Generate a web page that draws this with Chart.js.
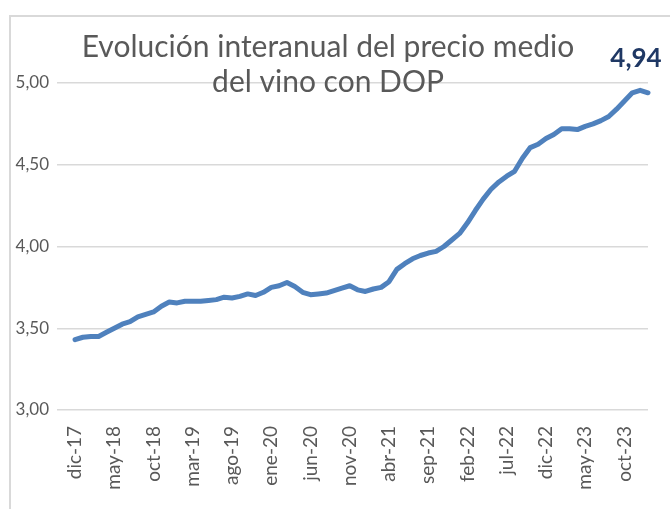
<!DOCTYPE html>
<html>
<head>
<meta charset="utf-8">
<script src="https://cdn.jsdelivr.net/npm/chart.js@4"></script>
<style>
  body { margin: 0; background: #ffffff; }
  #wrap { position: relative; width: 670px; height: 509px; overflow: hidden; }
  #frame { position: absolute; left: 9px; top: 15px; width: 700px; height: 600px;
           border-left: 2px solid #d9d9d9; border-top: 2px solid #d9d9d9; }
  #priceChart { position: absolute; left: 0; top: 0; }
</style>
</head>
<body>
<div id="wrap">
  <div id="frame"></div>
  <canvas id="priceChart" width="670" height="509"></canvas>
</div>
<script>
const months = [
  "dic-17",
  "ene-18", "feb-18", "mar-18", "abr-18", "may-18", "jun-18", "jul-18", "ago-18", "sep-18", "oct-18", "nov-18", "dic-18",
  "ene-19", "feb-19", "mar-19", "abr-19", "may-19", "jun-19", "jul-19", "ago-19", "sep-19", "oct-19", "nov-19", "dic-19",
  "ene-20", "feb-20", "mar-20", "abr-20", "may-20", "jun-20", "jul-20", "ago-20", "sep-20", "oct-20", "nov-20", "dic-20",
  "ene-21", "feb-21", "mar-21", "abr-21", "may-21", "jun-21", "jul-21", "ago-21", "sep-21", "oct-21", "nov-21", "dic-21",
  "ene-22", "feb-22", "mar-22", "abr-22", "may-22", "jun-22", "jul-22", "ago-22", "sep-22", "oct-22", "nov-22", "dic-22",
  "ene-23", "feb-23", "mar-23", "abr-23", "may-23", "jun-23", "jul-23", "ago-23", "sep-23", "oct-23", "nov-23", "dic-23",
  "ene-24"
];

const prices = [
  3.43,
  3.445, 3.45, 3.45, 3.475, 3.50, 3.525, 3.54, 3.57, 3.585, 3.60, 3.635, 3.66,
  3.655, 3.665, 3.665, 3.665, 3.67, 3.675, 3.69, 3.685, 3.695, 3.71, 3.70, 3.72,
  3.75, 3.76, 3.78, 3.755, 3.72, 3.705, 3.71, 3.715, 3.73, 3.745, 3.76, 3.735,
  3.725, 3.74, 3.75, 3.785, 3.86, 3.895, 3.925, 3.945, 3.96, 3.97, 4.00, 4.04,
  4.08, 4.145, 4.22, 4.29, 4.35, 4.395, 4.43, 4.46, 4.54, 4.605, 4.625, 4.66,
  4.685, 4.72, 4.72, 4.715, 4.735, 4.75, 4.77, 4.795, 4.84, 4.89, 4.94, 4.955,
  4.94
];

const titleLines = ["Evolución interanual del precio medio", "del vino con DOP"];
const yTicks = [3.0, 3.5, 4.0, 4.5, 5.0];
const labelEvery = 5;

const fmt = (v) => v.toFixed(2).replace(".", ",");

// title sits over the plot area, like in the Excel original
const titlePlugin = {
  id: "titleOverlay",
  afterDraw(chart) {
    const c = chart.ctx;
    c.save();
    c.fillStyle = "#595959";
    c.font = "30px Lato";
    c.textAlign = "center";
    c.textBaseline = "alphabetic";
    c.fillText(titleLines[0], 328, 57);
    c.fillText(titleLines[1], 328, 92);
    c.restore();
  }
};

// value label on the last point
const lastLabelPlugin = {
  id: "lastLabel",
  afterDatasetsDraw(chart) {
    const meta = chart.getDatasetMeta(0);
    const pt = meta.data[meta.data.length - 1];
    const c = chart.ctx;
    c.save();
    c.fillStyle = "#1f3864";
    c.font = "bold 26px Lato";
    c.textAlign = "center";
    c.textBaseline = "alphabetic";
    c.fillText(fmt(prices[prices.length - 1]), pt.x - 12, pt.y - 26);
    c.restore();
  }
};

const ctx = document.getElementById("priceChart").getContext("2d");
new Chart(ctx, {
  type: "line",
  data: {
    datasets: [
      {
        data: prices.map((v, i) => ({ x: i, y: v })),
        borderColor: "#4f81bd",
        borderWidth: 5,
        borderCapStyle: "round",
        borderJoinStyle: "round",
        pointRadius: 0,
        tension: 0,
        fill: false,
        clip: false,
      },
    ],
  },
  options: {
    responsive: false,
    animation: false,
    layout: { padding: { top: 83, right: 22, left: 0, bottom: 0 } },
    plugins: {
      legend: { display: false },
      tooltip: { enabled: false },
    },
    scales: {
      x: {
        type: "linear",
        min: -2.3,
        max: months.length - 1,
        afterBuildTicks: (axis) => {
          axis.ticks = months
            .map((m, i) => ({ value: i }))
            .filter((t) => t.value % labelEvery === 0);
        },
        afterFit: (axis) => { axis.height = 99; },
        ticks: {
          callback: (v) => months[v],
          color: "#595959",
          font: { family: "Lato", size: 19 },
          minRotation: 90,
          maxRotation: 90,
          autoSkip: false,
          padding: 8,
        },
        grid: { display: false },
        border: { display: false },
      },
      y: {
        min: 3,
        max: 5,
        afterBuildTicks: (axis) => {
          axis.ticks = yTicks.map((v) => ({ value: v }));
        },
        afterFit: (axis) => { axis.width = 57; },
        ticks: {
          callback: (v) => fmt(v),
          color: "#595959",
          font: { family: "Lato", size: 17 },
          padding: 8,
        },
        grid: { color: "#d9d9d9", lineWidth: 1.5, drawTicks: false },
        border: { display: false },
      },
    },
  },
  plugins: [titlePlugin, lastLabelPlugin],
});
</script>
</body>
</html>
